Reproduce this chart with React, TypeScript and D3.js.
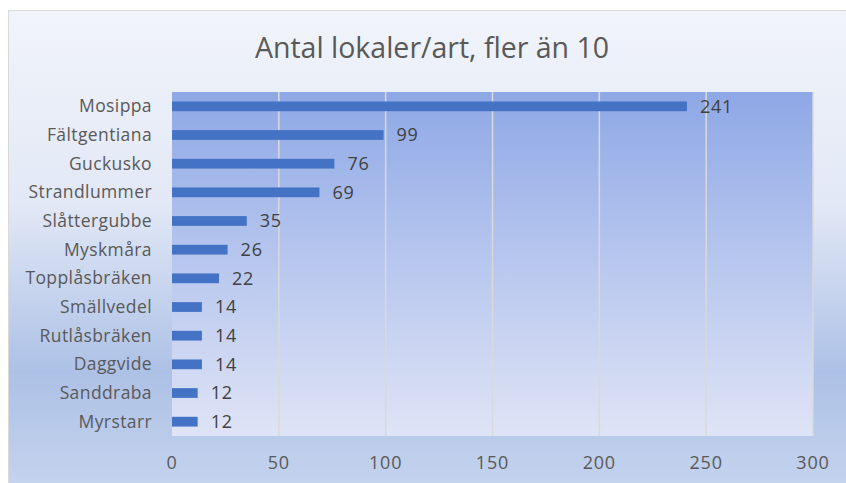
import React, { useEffect, useRef } from 'react';
import * as d3 from 'd3';

const species = ['Mosippa', 'Fältgentiana', 'Guckusko', 'Strandlummer', 'Slåttergubbe', 'Myskmåra',
  'Topplåsbräken', 'Smällvedel', 'Rutlåsbräken', 'Daggvide', 'Sanddraba', 'Myrstarr'];
const counts = [241, 99, 76, 69, 35, 26, 22, 14, 14, 14, 12, 12];
const xTicks = [0, 50, 100, 150, 200, 250, 300];
const title = 'Antal lokaler/art, fler än 10';

const FONT = '"Open Sans", Lato, sans-serif';
const TEXT = '#595959';

const App = () => {
  const svgRef = useRef<SVGSVGElement>(null);

  useEffect(() => {
    if (!svgRef.current) return;
    const svg = d3.select(svgRef.current);
    svg.selectAll('*').remove();

    const width = 846;
    const height = 483;
    const margin = { top: 92, right: 33, bottom: 47, left: 172 };
    const innerW = width - margin.left - margin.right;
    const innerH = height - margin.top - margin.bottom;

    const defs = svg.append('defs');
    // outer chart background
    const bg = defs.append('linearGradient').attr('id', 'bgGrad')
      .attr('x1', 0).attr('y1', 0).attr('x2', 0).attr('y2', 1);
    bg.append('stop').attr('offset', '0%').attr('stop-color', '#f1f4fa');
    bg.append('stop').attr('offset', '40%').attr('stop-color', '#e2e8f6');
    bg.append('stop').attr('offset', '75%').attr('stop-color', '#adc1e6');
    bg.append('stop').attr('offset', '100%').attr('stop-color', '#c6d4ee');

    // plot area background
    const pg = defs.append('linearGradient').attr('id', 'plotGrad')
      .attr('x1', 0).attr('y1', 0).attr('x2', 0).attr('y2', 1);
    pg.append('stop').attr('offset', '0%').attr('stop-color', '#8ea8e6');
    pg.append('stop').attr('offset', '55%').attr('stop-color', '#bccaef');
    pg.append('stop').attr('offset', '100%').attr('stop-color', '#dfe4f6');

    svg.append('rect')
      .attr('x', 8.5).attr('y', 10.5)
      .attr('width', width).attr('height', height)
      .attr('fill', 'url(#bgGrad)')
      .attr('stroke', '#d9d9d9');

    svg.append('text')
      .attr('x', 432).attr('y', 58)
      .attr('text-anchor', 'middle')
      .style('font-family', FONT)
      .style('font-size', '28.5px')
      .attr('fill', TEXT)
      .text(title);

    const g = svg.append('g').attr('transform', `translate(${margin.left},${margin.top})`);

    g.append('rect')
      .attr('width', innerW).attr('height', innerH)
      .attr('fill', 'url(#plotGrad)');

    const x = d3.scaleLinear().domain([0, 300]).range([0, innerW]);
    const y = d3.scaleBand().domain(species).range([0, innerH])
      .paddingInner(0.66).paddingOuter(0.33);

    // gridlines
    g.selectAll('.grid')
      .data(xTicks.slice(1))
      .join('line')
      .attr('class', 'grid')
      .attr('x1', d => x(d)).attr('x2', d => x(d))
      .attr('y1', 0).attr('y2', innerH)
      .attr('stroke', '#d9d9d9')
      .attr('stroke-width', 1.5);

    // bars
    g.selectAll('.bar')
      .data(counts)
      .join('rect')
      .attr('class', 'bar')
      .attr('x', 0)
      .attr('y', (d, i) => y(species[i])!)
      .attr('width', d => x(d))
      .attr('height', y.bandwidth())
      .attr('fill', '#4472c4');

    // value labels
    g.selectAll('.val')
      .data(counts)
      .join('text')
      .attr('class', 'val')
      .attr('x', d => x(d) + 13)
      .attr('y', (d, i) => y(species[i])! + y.bandwidth() / 2)
      .attr('dy', '0.36em')
      .style('font-family', FONT)
      .style('font-size', '18px')
      .style('letter-spacing', '0.8px')
      .attr('fill', '#404040')
      .text(d => d);

    // category labels
    g.selectAll('.cat')
      .data(species)
      .join('text')
      .attr('class', 'cat')
      .attr('x', -20)
      .attr('y', d => y(d)! + y.bandwidth() / 2)
      .attr('dy', '0.35em')
      .attr('text-anchor', 'end')
      .style('font-family', FONT)
      .style('font-size', '17.5px')
      .style('letter-spacing', '0.4px')
      .attr('fill', TEXT)
      .text(d => d);

    // x tick labels
    g.selectAll('.tick')
      .data(xTicks)
      .join('text')
      .attr('class', 'tick')
      .attr('x', d => x(d))
      .attr('y', innerH + 27)
      .attr('dy', '0.35em')
      .attr('text-anchor', 'middle')
      .style('font-family', FONT)
      .style('font-size', '18px')
      .style('letter-spacing', '0.8px')
      .attr('fill', TEXT)
      .text(d => d);
  }, []);

  return (
    <svg ref={svgRef} width={846} height={483}
      style={{ position: 'absolute', left: 0, top: 0 }} />
  );
};

export default App;
